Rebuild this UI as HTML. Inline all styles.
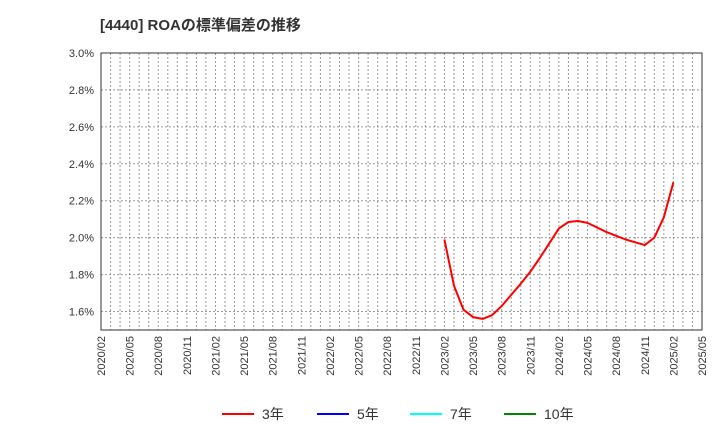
<!DOCTYPE html>
<html><head><meta charset="utf-8"><style>
body{margin:0;background:#fff;font-family:"Liberation Sans","Noto Sans CJK JP",sans-serif}
svg text{font-family:"Liberation Sans","Noto Sans CJK JP",sans-serif}
</style></head><body>
<svg id="c" width="720" height="440" xmlns="http://www.w3.org/2000/svg">
<text x="100" y="30" font-size="15" font-weight="bold" fill="#333">[4440]  ROAの標準偏差の推移</text>
<g id="grid"></g><g id="axes"></g><g id="series"></g>
<g font-size="14" fill="#333">
<g><line x1="222" y1="414" x2="254" y2="414" stroke="#f00" stroke-width="2"/><text x="262" y="419">3年</text></g>
<g><line x1="317" y1="414" x2="349" y2="414" stroke="#00f" stroke-width="2"/><text x="357" y="419">5年</text></g>
<g><line x1="410" y1="414" x2="442" y2="414" stroke="#0ff" stroke-width="2"/><text x="450" y="419">7年</text></g>
<g><line x1="504" y1="414" x2="536" y2="414" stroke="#080" stroke-width="2"/><text x="544" y="419">10年</text></g>
</g>
</svg>
<script>
const yTicks=[1.6,1.8,2.0,2.2,2.4,2.6,2.8,3.0];
const xTickLabels=["2020/02","2020/05","2020/08","2020/11","2021/02","2021/05","2021/08","2021/11","2022/02","2022/05","2022/08","2022/11","2023/02","2023/05","2023/08","2023/11","2024/02","2024/05","2024/08","2024/11","2025/02","2025/05"];
const startMonth=36;
const roa3=[1.99,1.74,1.61,1.57,1.56,1.58,1.63,1.69,1.75,1.815,1.89,1.97,2.05,2.085,2.09,2.08,2.055,2.03,2.01,1.99,1.975,1.96,2.00,2.11,2.30];
const L=101,R=702,T=53,B=330,yMin=1.5,yMax=3.0,nM=63;
const X=m=>L+(R-L)*m/nM, Y=v=>B-(B-T)*(v-yMin)/(yMax-yMin);
const ns="http://www.w3.org/2000/svg";
function mk(p,tag,a){const e=document.createElementNS(ns,tag);for(const k in a)e.setAttribute(k,a[k]);document.getElementById(p).appendChild(e);return e;}
for(let m=1;m<nM;m++){const e=mk('grid','line',{x1:X(m),x2:X(m),y1:T,y2:B,stroke:'#999','stroke-dasharray':'2,2','stroke-width':1});

}
yTicks.forEach(v=>{const e=mk('grid','line',{x1:L,x2:R,y1:Y(v),y2:Y(v),stroke:'#999','stroke-dasharray':'2,2','stroke-width':1});


const t=mk('axes','text',{x:L-7,y:Y(v)+4,'text-anchor':'end','font-size':11,fill:'#333'});t.textContent=v.toFixed(1)+'%';

});
const fr=mk('axes','rect',{x:L,y:T,width:R-L,height:B-T,fill:'none',stroke:'#333','stroke-width':1});


xTickLabels.forEach((s,i)=>{const x=X(i*3);const t=mk('axes','text',{x:x+4,y:B+6,'text-anchor':'end','font-size':11,fill:'#333',transform:`rotate(-90 ${x+4} ${B+6})`});t.textContent=s;

});
const pts=roa3.map((v,i)=>X(startMonth+i).toFixed(1)+','+Y(v).toFixed(1)).join(' ');
const pl=mk('series','polyline',{points:pts,fill:'none',stroke:'#f00','stroke-width':2,'stroke-linejoin':'round'});


</script>
</body></html>
